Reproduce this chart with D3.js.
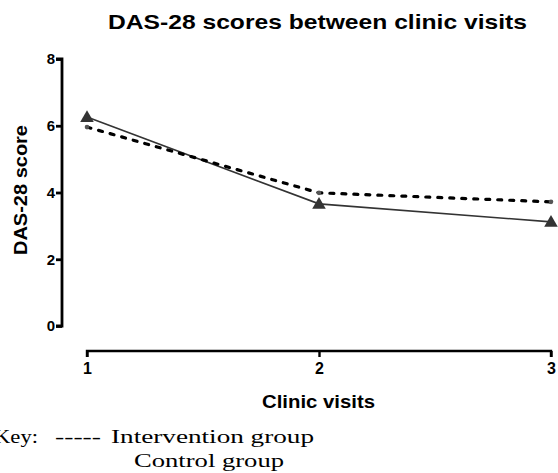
<!DOCTYPE html>
<html>
<head>
<meta charset="utf-8">
<script src="https://cdn.jsdelivr.net/npm/d3@7"></script>
<style>
  html, body { margin: 0; padding: 0; background: #fff; }
  svg { display: block; }
</style>
</head>
<body>
<svg id="chart" width="558" height="473"></svg>
<script>
const visits = [1, 2, 3];
const controlScores = [6.26, 3.66, 3.12];
const interventionScores = [5.96, 3.99, 3.72];
const yTicks = [0, 2, 4, 6, 8];
const xTicks = [1, 2, 3];
const titleText = "DAS-28 scores between clinic visits";
const xTitle = "Clinic visits";
const yTitle = "DAS-28 score";
const keyLabel = "Key:";
const keyDash = "-----";
const interventionLabel = "Intervention group";
const controlLabel = "Control group";

const svg = d3.select("#chart");
const x = d3.scaleLinear().domain([1, 3]).range([87, 551]);
const y = d3.scaleLinear().domain([0, 8]).range([326, 59]);
const sans = "'Liberation Sans', Arial, sans-serif";
const serif = "'Liberation Serif', 'Times New Roman', serif";

// Title
svg.append("text").attr("x", 317.5).attr("y", 29).attr("text-anchor", "middle")
  .attr("font-family", sans).attr("font-weight", "bold").attr("font-size", 21)
  .attr("textLength", 419).attr("lengthAdjust", "spacingAndGlyphs")
  .text(titleText);

// Y axis
const yAxis = d3.axisLeft(y).tickValues(yTicks).tickSize(6).tickPadding(1).tickFormat(d3.format("d"));
const gy = svg.append("g").attr("transform", "translate(62,0)").call(yAxis);
gy.select(".domain").attr("d", `M-6,${y(8)}H0V${y(0)}H-6`).attr("stroke", "#000").attr("stroke-width", 2.8).attr("fill", "none");
gy.selectAll(".tick line").attr("stroke", "#000").attr("stroke-width", 2.8);
gy.selectAll(".tick text").attr("font-family", sans).attr("font-weight", "bold").attr("font-size", 15).attr("fill", "#000");

// X axis
const xAxis = d3.axisBottom(x).tickValues(xTicks).tickSize(6).tickPadding(6).tickFormat(d3.format("d"));
const gx = svg.append("g").attr("transform", "translate(0,351)").call(xAxis);
gx.select(".domain").attr("d", `M${x(1)},6V0H${x(3)}V6`).attr("stroke", "#000").attr("stroke-width", 2.4).attr("fill", "none");
gx.selectAll(".tick line").attr("stroke", "#000").attr("stroke-width", 2.4);
gx.selectAll(".tick text").attr("font-family", sans).attr("font-weight", "bold").attr("font-size", 16).attr("fill", "#000");

// Axis titles
svg.append("text").attr("x", 318.5).attr("y", 408).attr("text-anchor", "middle")
  .attr("font-family", sans).attr("font-weight", "bold").attr("font-size", 18)
  .attr("textLength", 113).attr("lengthAdjust", "spacingAndGlyphs").text(xTitle);
svg.append("text").attr("transform", "translate(27,190) rotate(-90)").attr("text-anchor", "middle")
  .attr("font-family", sans).attr("font-weight", "bold").attr("font-size", 18)
  .attr("textLength", 130).attr("lengthAdjust", "spacingAndGlyphs")
  .text(yTitle);

// Lines
const line = d3.line().x(d => x(d[0])).y(d => y(d[1]));
const ctrl = visits.map((v, i) => [v, controlScores[i]]);
const intv = visits.map((v, i) => [v, interventionScores[i]]);

svg.append("path").datum(ctrl).attr("d", line).attr("fill", "none")
  .attr("stroke", "#333").attr("stroke-width", 1.6);
svg.append("path").datum(intv).attr("d", line).attr("fill", "none")
  .attr("stroke", "#000").attr("stroke-width", 3.2)
  .attr("stroke-dasharray", "4,8").attr("stroke-linecap", "round");

svg.selectAll(".idot").data(intv).enter().append("circle")
  .attr("cx", d => x(d[0])).attr("cy", d => y(d[1])).attr("r", 2.3).attr("fill", "#555");

const tri = d3.symbol().type(d3.symbolTriangle).size(80);
svg.selectAll(".tri").data(ctrl).enter().append("path")
  .attr("d", tri).attr("transform", d => `translate(${x(d[0])},${y(d[1]) + 1})`)
  .attr("fill", "#333");

// Key
const key = svg.append("g").attr("font-family", serif).attr("font-size", 19).attr("fill", "#000");
key.append("text").attr("x", -6).attr("y", 443).attr("textLength", 44).attr("lengthAdjust", "spacingAndGlyphs").text(keyLabel);
key.append("text").attr("x", 55).attr("y", 443).attr("textLength", 46).attr("lengthAdjust", "spacingAndGlyphs").text(keyDash);
key.append("text").attr("x", 111).attr("y", 443).attr("textLength", 203).attr("lengthAdjust", "spacingAndGlyphs").text(interventionLabel);
key.append("text").attr("x", 134).attr("y", 467).attr("textLength", 150).attr("lengthAdjust", "spacingAndGlyphs").text(controlLabel);
</script>
</body>
</html>
